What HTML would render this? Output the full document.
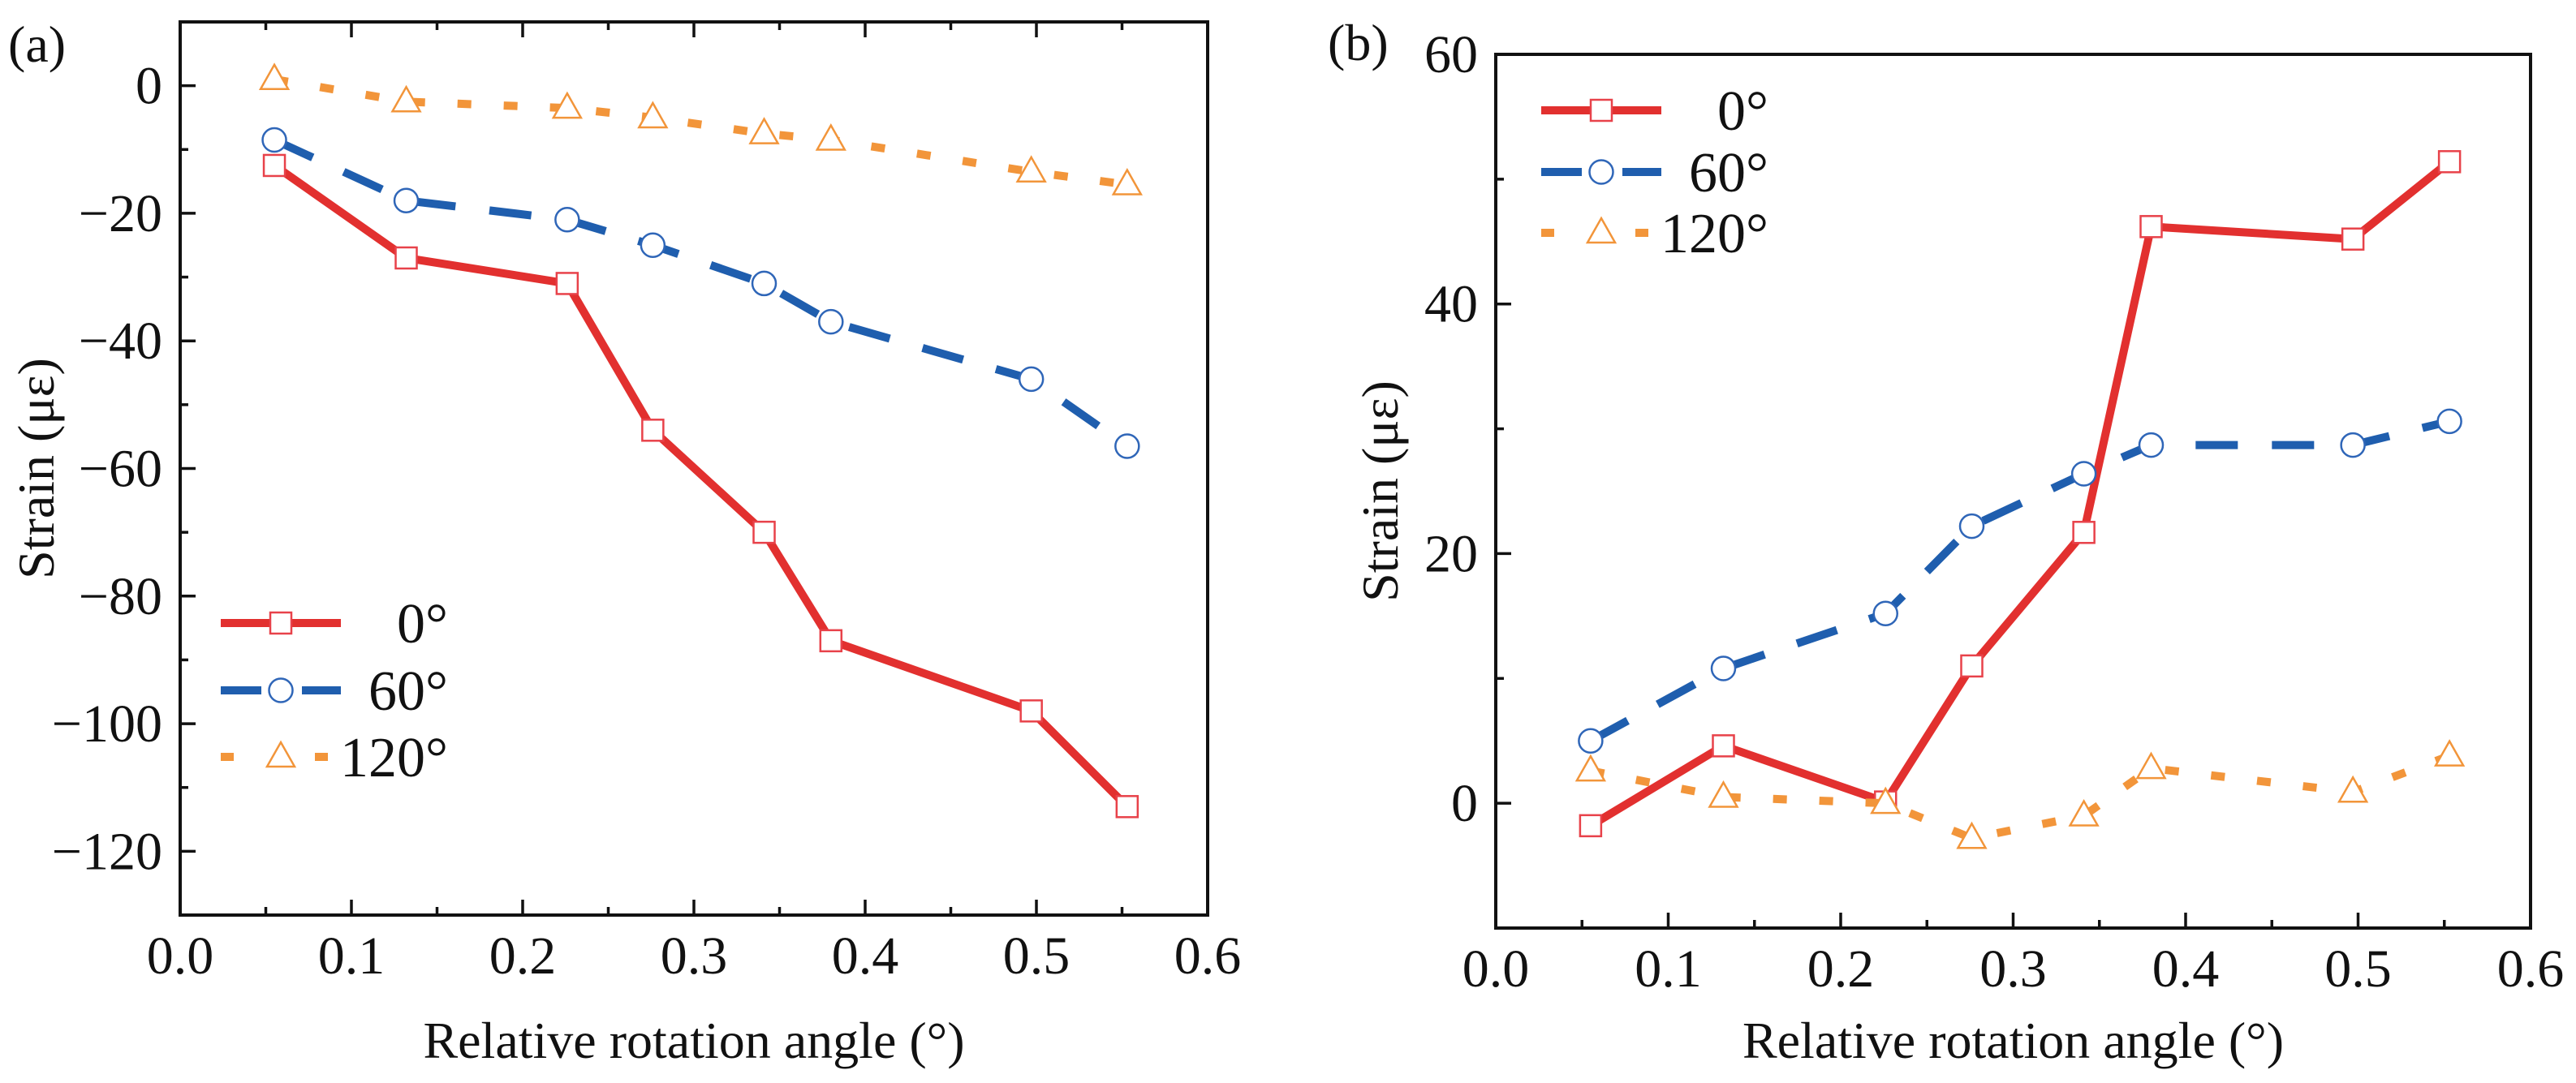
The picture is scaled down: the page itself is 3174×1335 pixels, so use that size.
<!DOCTYPE html>
<html><head><meta charset="utf-8">
<style>
html,body{margin:0;padding:0;background:#fff;}
svg{display:block;}
svg text{font-family:"Liberation Serif","DejaVu Serif",serif;}
</style></head>
<body>
<svg id="fig" width="3174" height="1335" viewBox="0 0 3174 1335" xmlns="http://www.w3.org/2000/svg" font-family="Liberation Serif, serif"></svg>
<script>
const xValues = [0.055, 0.132, 0.226, 0.276, 0.341, 0.380, 0.497, 0.553];
const seriesNames = ["0°", "60°", "120°"];
const aStrain0 = [-12.5, -27, -31, -54, -70, -87, -98, -113];
const aStrain60 = [-8.5, -18, -21, -25, -31, -37, -46, -56.5];
const aStrain120 = [1, -2.5, -3.5, -5, -7.5, -8.5, -13.5, -15.5];
const bStrain0 = [-1.8, 4.6, 0.1, 11, 21.7, 46.2, 45.2, 51.4];
const bStrain60 = [5, 10.8, 15.2, 22.2, 26.4, 28.7, 28.7, 30.6];
const bStrain120 = [2.6, 0.5, 0, -2.8, -1, 2.8, 0.9, 3.8];
const xTickLabels = ["0.0","0.1","0.2","0.3","0.4","0.5","0.6"];
const aYTickLabels = ["0","−20","−40","−60","−80","−100","−120"];
const aYTickValues = [0,-20,-40,-60,-80,-100,-120];
const bYTickLabels = ["0","20","40","60"];
const bYTickValues = [0,20,40,60];

const NS = "http://www.w3.org/2000/svg";
const FONT = "'Liberation Serif', 'DejaVu Serif', serif";
const svg = document.getElementById("fig");
function mk(tag, attrs, parent){
  const e = document.createElementNS(NS, tag);
  for (const k in attrs) e.setAttribute(k, attrs[k]);
  if (tag === "text") e.setAttribute("font-family", FONT);
  (parent||svg).appendChild(e);
  return e;
}
const styles = [
  {color:"#e2302f", dash:"", mcolor:"#e8424a", marker:"square"},
  {color:"#1f5eae", dash:"52 42", mcolor:"#2f66b8", marker:"circle"},
  {color:"#f2953a", dash:"17 40", mcolor:"#f2953a", marker:"triangle"}
];
function drawMarker(g, type, cx, cy, color){
  let m;
  if (type==="square") m = mk("rect",{x:cx-13,y:cy-13,width:26,height:26,fill:"#fff",stroke:color,"stroke-width":2.5},g);
  else if (type==="circle") m = mk("circle",{cx:cx,cy:cy,r:14.5,fill:"#fff",stroke:color,"stroke-width":2.5},g);
  else m = mk("polygon",{points:`${cx},${cy-18} ${cx+17},${cy+12} ${cx-17},${cy+12}`,fill:"#fff",stroke:color,"stroke-width":2.5},g);
  return m;
}

function panel(cfg){
  const g = mk("g",{});
  
  
  const X = v => cfg.L + (v - 0) / 0.6 * (cfg.R - cfg.L);
  const Y = v => cfg.B - (v - cfg.ymin) / (cfg.ymax - cfg.ymin) * (cfg.B - cfg.T);
  const tg = mk("g",{stroke:"#111","stroke-width":3.5},g);
  
  
  for (let i=1;i<12;i++){
    const x = X(i*0.05), len = i%2===0 ? 19 : 10;
    mk("line",{x1:x,y1:cfg.B,x2:x,y2:cfg.B-len},tg);
    if (cfg.topTicks) mk("line",{x1:x,y1:cfg.T,x2:x,y2:cfg.T+len},tg);
  }
  for (let v=cfg.ymin+10; v<cfg.ymax; v+=10){
    const len = (v % 20 === 0) ? 19 : 10;
    mk("line",{x1:cfg.L,y1:Y(v),x2:cfg.L+len,y2:Y(v)},tg);
  }
  xTickLabels.forEach((t,i)=>{
    const e = mk("text",{x:X(i*0.1),y:cfg.B+72,"font-size":66,"text-anchor":"middle",fill:"#111"},g);
    e.textContent = t;
    
    
  });
  cfg.yVals.forEach((v,i)=>{
    const e = mk("text",{x:cfg.L-22,y:Y(v)+22,"font-size":66,"text-anchor":"end",fill:"#111"},g);
    e.textContent = cfg.yLabels[i];
    
    
  });
  cfg.series.forEach((arr,si)=>{
    const st = styles[si];
    const sg = mk("g",{},g);
    
    
    const pts = arr.map((v,i)=>X(xValues[i])+","+Y(v)).join(" ");
    const pl = mk("polyline",{points:pts,fill:"none",stroke:st.color,"stroke-width":10,"stroke-dasharray":st.dash,"stroke-linejoin":"round"},sg);
    
    
    arr.forEach((v,i)=>{
      const m = drawMarker(sg, st.marker, X(xValues[i]), Y(v), st.mcolor);
      
      
    });
  });
  const fr = mk("rect",{x:cfg.L,y:cfg.T,width:cfg.R-cfg.L,height:cfg.B-cfg.T,fill:"none",stroke:"#111","stroke-width":4},g);
  
  
  const lg = mk("g",{},g);
  
  
  cfg.legendY.forEach((ly,si)=>{
    const st = styles[si];
    const x1 = cfg.legX, x2 = cfg.legX + 148, xm = (x1+x2)/2;
    if (si===0) mk("line",{x1:x1,y1:ly,x2:x2,y2:ly,stroke:st.color,"stroke-width":10},lg);
    else if (si===1){
      mk("line",{x1:x1,y1:ly,x2:x1+50,y2:ly,stroke:st.color,"stroke-width":10},lg);
      mk("line",{x1:x2-48,y1:ly,x2:x2,y2:ly,stroke:st.color,"stroke-width":10},lg);
    } else {
      mk("line",{x1:x1,y1:ly,x2:x1+16,y2:ly,stroke:st.color,"stroke-width":10},lg);
      mk("line",{x1:x2-32,y1:ly,x2:x2-16,y2:ly,stroke:st.color,"stroke-width":10},lg);
    }
    const m = drawMarker(lg, st.marker, xm, ly, st.mcolor);
    
    
    const t = mk("text",{x:x2+132,y:ly+24,"font-size":70,"text-anchor":"end",fill:"#111"},lg);
    t.textContent = seriesNames[si];
    
    
  });
  const xt = mk("text",{x:(cfg.L+cfg.R)/2,y:1304,"font-size":64,"text-anchor":"middle",fill:"#111"},g);
  xt.textContent = "Relative rotation angle (°)";
  
  
  const yc = (cfg.T+cfg.B)/2;
  const yt = mk("text",{x:cfg.yTitleX,y:yc,"font-size":64,"text-anchor":"middle",fill:"#111",transform:`rotate(-90 ${cfg.yTitleX} ${yc})`},g);
  yt.textContent = "Strain (με)";
  
  
  const pl = mk("text",{x:cfg.labX,y:cfg.labY,"font-size":64,fill:"#111"},g);
  pl.textContent = cfg.label;
  
  
}

panel({name:"panel-a", L:222, R:1488, T:27, B:1128, ymin:-130, ymax:10, topTicks:true,
  series:[aStrain0,aStrain60,aStrain120], yVals:aYTickValues, yLabels:aYTickLabels,
  legX:272, legendY:[768,851,933], yTitleX:66, labX:10, labY:76, label:"(a)"});
panel({name:"panel-b", L:1843, R:3118, T:67, B:1144, ymin:-10, ymax:60, topTicks:false,
  series:[bStrain0,bStrain60,bStrain120], yVals:bYTickValues, yLabels:bYTickLabels,
  legX:1899, legendY:[136,212,287], yTitleX:1722, labX:1636, labY:74, label:"(b)"});
</script>
</body></html>
